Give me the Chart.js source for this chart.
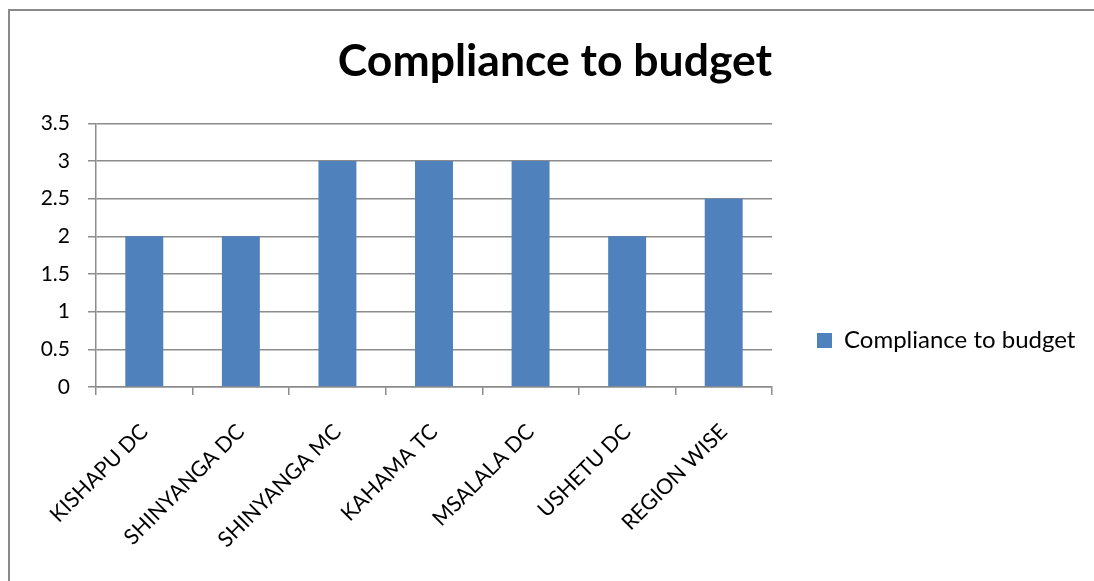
<!DOCTYPE html>
<html><head><meta charset="utf-8">
<script src="https://cdn.jsdelivr.net/npm/chart.js@4/dist/chart.umd.min.js"></script>
<style>
html,body{margin:0;padding:0;background:#fff;overflow:hidden;}
#frame{position:absolute;left:8px;top:9px;width:1200px;height:700px;border:2px solid #8a8a8a;}
#wrap{position:absolute;left:0;top:0;width:1094px;height:581px;}
</style></head>
<body>
<div id="frame"></div>
<div id="wrap"><canvas id="c" width="1094" height="581"></canvas></div>
<script>
const categories = ["KISHAPU DC","SHINYANGA DC","SHINYANGA MC","KAHAMA TC","MSALALA DC","USHETU DC","REGION WISE"];
const seriesName = "Compliance to budget";
const values = [2, 2, 3, 3, 3, 2, 2.5];
const yTicks = [0, 0.5, 1, 1.5, 2, 2.5, 3, 3.5];

const FONT = "Lato, 'Open Sans', sans-serif";
const GRID = '#8c8c8c';

const placeBoxes = {
  id: 'placeBoxes',
  afterLayout(chart) {
    const lg = chart.legend;
    if (lg) {
      const h = lg.bottom - lg.top;
      lg.left = 807; lg.right = 1094;
      lg.top += 32; lg.bottom = lg.top + h;
    }
    const t = chart.titleBlock;
    if (t) {
      const cx = (t.left + t.right) / 2;
      const dx = 555 - cx;
      t.left += dx; t.right += dx;
      t.top -= 1; t.bottom -= 1;
    }
  }
};

new Chart(document.getElementById('c'), {
  type: 'bar',
  data: {
    labels: categories,
    datasets: [{
      label: seriesName,
      data: values,
      backgroundColor: '#4F81BD',
      borderWidth: 0,
      barPercentage: 0.393,
      categoryPercentage: 1.0
    }]
  },
  plugins: [placeBoxes],
  options: {
    responsive: false,
    animation: false,
    devicePixelRatio: 1,
    layout: { padding: { left: 16, right: 70, top: 36, bottom: 0 } },
    plugins: {
      title: {
        display: true,
        text: seriesName,
        color: '#000',
        font: { family: FONT, size: 44.5, weight: 'bold', lineHeight: 1.2 },
        padding: { top: 0, bottom: 34 }
      },
      legend: {
        display: true,
        position: 'right',
        labels: {
          color: '#000',
          font: { family: FONT, size: 24 },
          boxWidth: 15,
          boxHeight: 15,
          padding: 10
        }
      },
      tooltip: { enabled: false }
    },
    scales: {
      x: {
        grid: { display: true, drawOnChartArea: false, drawTicks: true, tickLength: 8, color: GRID, lineWidth: 1.5, offset: true },
        border: { display: true, color: GRID, width: 1.5 },
        ticks: { color: '#000', font: { family: FONT, size: 21.5 }, minRotation: 45, maxRotation: 45, autoSkip: false, padding: 24 },
        afterFit: (s) => { s.height = 194; }
      },
      y: {
        min: 0, max: 3.5,
        afterBuildTicks: (s) => { s.ticks = yTicks.map(v => ({ value: v })); },
        grid: { display: true, color: GRID, lineWidth: 1.5, tickLength: 8 },
        border: { display: true, color: GRID, width: 1.5 },
        ticks: { color: '#000', font: { family: FONT, size: 21 }, padding: 18, callback: (v) => String(v) },
        afterFit: (s) => { s.width = 80; }
      }
    }
  }
});
</script>
</body></html>
